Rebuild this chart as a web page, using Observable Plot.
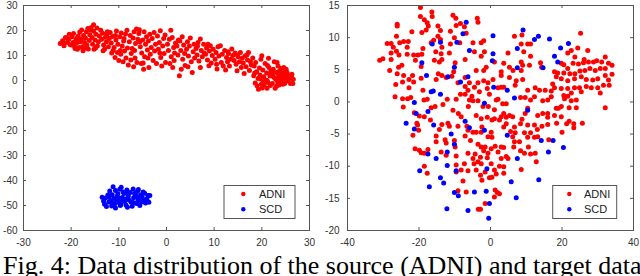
<!DOCTYPE html>
<html><head><meta charset="utf-8">
<script src="https://cdn.jsdelivr.net/npm/d3@7"></script>
<script src="https://cdn.jsdelivr.net/npm/@observablehq/plot@0.6"></script>
<style>
html,body{margin:0;padding:0;background:#fff;}
#wrap{position:relative;width:640px;height:276px;overflow:hidden;background:#fff;}
#left{position:absolute;left:0;top:0;}
#right{position:absolute;left:320px;top:0;}
#caption{position:absolute;left:3px;top:253px;font-family:"Liberation Serif","Times New Roman",serif;font-size:26px;line-height:26px;white-space:nowrap;color:#000;}
</style></head><body>
<div id="wrap"><div id="left"></div><div id="right"></div><div id="caption"></div></div>
<script>
const series = ["ADNI", "SCD"];
const colors = ["#ff0000", "#0000ff"];
const captionText = "Fig. 4: Data distribution of the source (ADNI) and target data";

const leftXTicks = [-30, -20, -10, 0, 10, 20, 30];
const leftYTicks = [-60, -50, -40, -30, -20, -10, 0, 10, 20, 30];
const rightXTicks = [-40, -20, 0, 20, 40];
const rightYTicks = [-20, -15, -10, -5, 0, 5, 10, 15];

const leftADNI = [
[-22.3,14.8],[-21.8,15.9],[-21.5,13.9],[-21.2,17.2],[-20.8,15.2],[-20.5,16.5],[-20.4,18.5],[-20.2,14.3],[-20.9,16.9],[-21.6,15.0],
[-19.8,17.5],[-19.6,15.2],[-19.5,18.8],[-19.3,13.8],[-19.0,16.3],[-18.9,14.9],[-18.7,12.5],[-18.5,17.8],[-18.3,13.2],[-18.2,19.4],[-18.1,15.5],[-19.9,14.2],[-18.8,16.9],[-19.2,12.8],
[-17.9,16.5],[-17.8,20.2],[-17.6,13.5],[-17.4,18.0],[-17.2,15.2],[-17.0,17.0],[-16.8,19.5],[-16.7,14.2],[-16.5,20.8],[-16.4,12.6],[-16.2,16.0],[-16.1,18.3],[-17.5,11.9],[-16.9,13.0],
[-15.3,22.3],[-15.8,21.2],[-15.6,17.2],[-15.5,14.5],[-15.3,19.7],[-15.2,12.5],[-15.0,16.2],[-14.8,18.5],[-14.6,21.0],[-14.5,13.8],[-14.3,15.5],[-14.1,17.8],[-15.9,20.2],[-14.9,13.0],
[-13.8,20.1],[-13.6,16.5],[-13.4,18.9],[-13.2,14.2],[-13.0,12.5],[-12.8,17.3],[-12.6,15.5],[-12.4,19.5],[-12.2,13.5],[-12.0,16.8],[-13.3,11.9],[-12.5,18.2],
[-11.8,19.2],[-11.6,15.0],[-11.5,11.0],[-11.3,17.6],[-11.0,13.2],[-10.8,9.2],[-10.6,16.2],[-10.5,19.8],[-10.3,11.2],[-10.2,14.5],[-10.0,8.0],[-11.2,12.0],[-10.7,18.0],
[-9.8,17.5],[-9.6,10.5],[-9.5,19.0],[-9.3,13.8],[-9.1,7.5],[-9.0,15.8],[-8.8,11.8],[-8.6,18.6],[-8.5,9.0],[-8.3,20.1],[-8.2,13.0],[-8.0,6.2],[-9.7,12.0],[-8.9,16.8],
[-7.8,15.5],[-7.6,18.0],[-7.4,10.8],[-7.2,12.8],[-7.0,17.0],[-6.9,5.5],[-6.8,19.5],[-6.6,9.0],[-6.5,14.8],[-6.3,20.6],[-6.2,7.2],[-6.0,16.5],[-7.5,8.2],[-6.7,12.0],
[-5.8,18.8],[-5.7,20.3],[-5.5,13.5],[-5.3,6.8],[-5.2,11.0],[-5.0,16.2],[-4.8,4.5],[-4.7,19.5],[-4.6,9.5],[-4.4,14.5],[-4.2,17.5],[-4.0,12.2],[-5.6,15.5],[-4.9,7.0],
[-3.8,15.8],[-3.7,5.2],[-3.5,18.5],[-3.4,10.5],[-3.2,13.2],[-3.0,16.8],[-2.8,8.0],[-2.6,19.2],[-2.5,11.8],[-2.3,14.5],[-2.1,6.8],[-3.9,9.0],
[-1.9,17.8],[-1.7,12.5],[-1.5,15.2],[-1.3,19.9],[-1.2,9.2],[-1.0,5.8],[-0.8,13.8],[-0.6,16.8],[-0.5,10.8],[-0.3,18.2],[-0.2,7.2],[-1.4,11.0],
[0.2,14.5],[0.4,12.0],[0.6,16.5],[0.9,20.1],[1.0,9.5],[1.2,17.2],[1.3,5.2],[1.5,13.2],[1.7,11.0],[1.9,15.0],[0.7,6.8],[1.6,8.0],
[2.2,13.8],[2.4,10.2],[2.7,1.9],[2.8,15.8],[3.0,12.0],[3.3,17.5],[3.4,8.5],[3.6,14.2],[3.8,10.8],[3.9,6.0],[2.5,16.2],[3.1,4.5],
[4.2,12.5],[4.4,15.5],[4.6,9.8],[4.8,13.8],[5.0,17.0],[5.2,7.5],[5.4,3.2],[5.6,11.5],[5.8,14.5],[5.9,9.0],[4.5,5.5],
[6.2,12.8],[6.4,10.2],[6.6,15.2],[6.8,7.8],[7.1,16.6],[7.1,5.2],[7.3,12.0],[7.5,9.5],[7.8,14.5],[7.9,11.0],[6.5,13.8],
[8.2,10.5],[8.4,13.0],[8.6,8.2],[8.9,5.9],[9.0,11.8],[9.2,13.9],[9.4,7.0],[9.6,10.0],[9.8,12.5],[8.7,14.5],
[10.2,8.5],[10.4,11.2],[10.6,4.6],[10.8,13.5],[11.0,9.8],[11.3,13.9],[11.5,7.2],[11.7,10.5],[11.9,5.8],[10.5,6.5],
[12.2,12.0],[12.4,4.2],[12.6,9.2],[12.8,7.5],[13.0,10.8],[13.2,5.8],[13.5,8.5],[13.7,12.6],[13.9,10.0],[12.9,11.5],
[14.2,8.0],[14.4,11.0],[14.6,6.5],[14.8,3.9],[15.0,9.5],[15.3,7.5],[15.5,11.2],[15.7,5.2],[15.9,9.0],[14.9,10.2],
[16.1,7.0],[16.3,2.8],[16.5,9.8],[16.7,5.5],[17.0,8.2],[17.2,11.2],[17.4,4.0],[17.6,7.5],[17.8,6.2],[16.9,10.3],
[18.1,9.0],[18.3,1.9],[18.4,5.8],[18.6,-1.0],[18.7,7.2],[18.9,3.5],[19.0,-2.1],[19.2,0.8],[19.3,-3.5],[19.5,5.0],[19.7,0.6],[19.8,8.5],[19.9,-1.5],[18.5,3.0],[19.6,2.2],
[20.0,9.9],[20.1,-3.0],[20.2,4.2],[20.4,1.5],[20.5,-1.8],[20.7,6.8],[20.8,0.2],[21.0,3.0],[21.1,0.0],[21.1,-3.1],[21.3,-0.8],[21.4,8.9],[21.5,5.2],[21.7,1.8],[21.8,-2.0],[21.9,3.8],[20.3,-0.5],[21.2,6.0],
[22.0,2.5],[22.2,-1.2],[22.4,4.5],[22.5,1.3],[22.6,7.5],[22.8,-3.1],[22.9,0.5],[23.0,3.2],[23.2,7.2],[23.3,-0.5],[23.4,5.8],[23.5,1.8],[23.6,-1.8],[23.7,3.8],[23.8,0.2],[23.9,2.6],[22.3,3.0],[23.1,-2.2],
[24.0,4.8],[24.1,-0.8],[24.2,1.5],[24.3,3.0],[24.5,0.5],[24.6,5.2],[24.7,2.2],[24.8,-1.2],[24.9,3.8],[25.0,1.0],[25.2,2.8],[25.3,3.2],[25.4,-0.2],[25.6,1.8],[25.8,0.8],[26.0,-1.2],[26.2,1.5],[26.3,2.5],[26.5,-1.2],[26.6,0.5],[25.1,4.5],[24.4,-1.5]
];

const leftSCD = [
[-13.5,-46.7],[-13.2,-48.2],[-13.0,-49.5],[-12.8,-47.0],[-12.6,-50.4],[-12.3,-45.8],[-12.1,-48.6],[-11.9,-44.2],[-11.7,-48.0],[-11.5,-50.2],
[-11.4,-45.7],[-11.2,-42.5],[-11.0,-47.2],[-10.9,-49.4],[-10.7,-44.0],[-10.7,-51.0],[-10.5,-47.8],[-10.3,-46.2],[-10.2,-45.3],[-10.0,-48.8],
[-9.8,-43.5],[-9.7,-50.0],[-9.6,-49.6],[-9.5,-42.7],[-9.3,-46.8],[-9.1,-44.6],[-8.9,-45.2],[-8.8,-48.3],[-8.6,-47.4],[-8.5,-49.8],
[-8.3,-43.8],[-8.2,-50.7],[-8.0,-46.2],[-7.8,-47.9],[-7.6,-44.8],[-7.4,-48.7],[-7.2,-50.3],[-7.0,-43.4],[-6.9,-46.9],[-6.7,-45.2],
[-6.5,-46.0],[-6.3,-49.2],[-6.1,-44.4],[-6.0,-48.0],[-5.8,-47.0],[-5.6,-50.0],[-5.4,-45.8],[-5.2,-48.6],[-5.1,-46.7],[-4.9,-44.6],
[-4.6,-45.1],[-4.4,-49.0],[-4.1,-47.4],[-3.9,-46.0],[-3.7,-48.7],[-3.5,-46.0],[-12.0,-46.6],[-10.1,-47.2],[-9.0,-47.6],[-8.0,-45.0],
[-7.0,-48.8],[-6.0,-46.5],[-11.3,-49.0],[-9.4,-48.5],[-5.9,-43.6],[-4.8,-47.8]
];

const rightADNI = [
[-19.6,14.7],[-16.4,14.0],[-16.3,13.3],[-19.6,13.3],[-18.5,12.8],[-17.7,12.3],[-17.4,11.8],[-18,11.2],[-14.7,11.8],[-14,11.1],
[-19.2,10.8],[-26.1,12.1],[-26.1,11.8],[-22,10.9],[-26.3,10.2],[-28.9,9.1],[-27.8,9.1],[-27.2,8.5],[-25.4,9.2],[-24.3,9.4],
[-23,9.4],[-23.3,8.5],[-26.3,7.9],[-27.8,7.6],[-31,6.5],[-30.1,6.7],[-27.8,6.6],[-25.6,7.3],[-23.3,7.4],[-21.5,7.3],
[-19.2,7.4],[-18.9,8.3],[-16.6,9.2],[-14,9.7],[-11.2,11.0],[-10.1,10.0],[-8.6,9.2],[-8.4,12.2],[-9.6,11.9],[-3.7,13],
[-3.5,12.4],[-4.9,9.2],[-2.6,9.2],[-1.9,9.5],[-4.5,7.8],[-1.7,7.8],[-7.1,6.6],[-13.8,7.5],[-14.3,6.2],[-15.7,6.5],
[-13.6,6.6],[-19.4,5.5],[-28.2,4.9],[-25.7,5.4],[-26.1,4.4],[-24.8,5.7],[-24.3,4.1],[-21.8,4.1],[-22.8,3.5],[-21.5,3.1],
[-19.4,3.7],[-24.6,3.1],[-26.5,2.7],[-22.8,2.2],[-26.7,0.8],[-24.6,0.5],[-23.2,0.5],[-22.3,0.7],[-24.4,-0.8],[-14.6,4.4],
[-13.6,4.1],[-12.4,3.8],[-10.8,4.0],[-15.2,3.5],[-9.9,6.1],[-11.5,7.6],[-9.1,3.0],[-10.3,4.7],[-7.1,2.4],[-5.9,3.0],
[-7.1,3.8],[-4,4.9],[-1.9,4.9],[-1.2,5.4],[-2.6,7.1],[1.1,6.2],[3.7,6.0],[3,4.7],[3,4.1],[0.7,3.5],
[3,2.3],[3.7,2.3],[-3.5,3.0],[-1.9,3.3],[-0.7,3.0],[5.3,3.8],[7.2,3.3],[9,3.5],[8.6,4.9],[8.6,6.2],
[9.0,5.7],[10.9,5.7],[11.2,7.1],[14,6.1],[6.7,10.2],[8.8,10.4],[10.4,9.0],[11.2,9.0],[8.6,9.0],[9.3,7.8],
[25.2,10.7],[22.6,8.0],[21.6,7.6],[24.4,8.4],[27.2,8.0],[23.6,7.0],[26.2,6.6],[19.8,6.0],[20.5,5.8],[21.6,5.2],
[23.1,6.0],[24.6,5.9],[26,6.1],[27.4,6.2],[28.8,6.2],[29.7,6.4],[31.1,6.2],[32.1,7.0],[33,6.0],[34,5.7],
[32.1,5.2],[30.7,5.2],[29.3,4.9],[27.8,5.2],[26.4,4.9],[25,4.8],[23.6,4.4],[22.2,4.4],[20.5,4.5],[18.8,4.5],
[17.9,4.7],[18.4,3.9],[19.8,3.6],[21.6,3.3],[23.5,3.6],[25.4,3.9],[26.8,3.5],[28.6,3.4],[30,3.6],[32.1,4.1],
[34,4.3],[33,3.4],[31.6,2.6],[33.2,2.6],[30,2.2],[28.2,2.2],[26.8,2.4],[24.9,2.2],[23.5,2.2],[21.6,2.1],
[19.8,2.1],[17.9,2.2],[17,1.7],[17.4,2.8],[20.5,1.0],[21.6,0.9],[22.6,1.4],[20.7,0.5],[22.6,0.2],[24,0.3],
[25.4,1.6],[30.7,1.4],[32.1,-0.9],[14.6,0.2],[16,0.3],[17,0.8],[15.3,1.8],[18.4,-1.0],[19,-1.0],[19.8,-0.7],
[22,-0.9],[24,-0.9],
[12.3,0.8],[11.2,0.3],[9.7,0.7],[8.4,0.7],[10.4,-1.0],[9.7,-1.8],[13.2,-2.1],[14.6,-1.8],[16,-1.8],[16,-2.4],
[17.9,-2.1],[19.8,-2.3],[22,-3.0],[23.3,-3.4],[25.7,-3.3],[23.3,-4.0],[21.3,-3.4],[18.5,-3.3],[16,-3.5],[14.4,-3.8],
[12.3,-3.6],[13.1,-4.3],[11.2,-4.8],[9.5,-4.8],[20.0,-4.7],[10.4,-5.5],[12.3,-5.5],[13.2,-5.4],[16.3,-5.9],[10.6,-7.0],
[11.2,-8.1],[12.5,-8.0],[9.5,-8.0],[12.8,-9.3],[8.6,-10.5],[8.4,-7.6],[6.5,-7.0],[6.7,-6.2],[8.1,-6.2],[6.2,-5.4],
[6.9,-4.8],[6.7,-3.9],[8.4,-3.4],[8.8,-2.7],[6.2,-2.3],[5.3,-2.1],[3.7,-1.8],[3.7,-3.9],[4.4,-3.4],[3,-2.3],
[1.1,-2.6],[2.5,-2.8],[0.4,-2.8],[-0.9,-2.4],[-2.6,-2.6],[-4,-2.1],[1.1,-1.2],[1.6,0.3],[3.4,-0.3],[4.4,-0.3],
[2.1,0.4],[-3.5,0.2],[-4.9,0.2],[-6.2,-0.7],[-5.9,0.3],[-7.1,1.2],[-8.4,1.2],[-9.6,0.4],[-12.1,0.4],[-13.3,-0.4],
[-15.5,-0.7],[-16.6,-0.9],[-17.7,0.4],[-18.9,1.8],[-18.6,0.3],[-21.3,-1.7],[-19.9,-2.2],[-18.5,-2.3],[-20.6,-3.3],[-20.4,-3.6],
[-16.8,-2.8],[-14.3,-4.3],[-15.2,-5.3],[-13.6,-3.5],[-11.5,-3.8],[-11.9,-3.3],[-10.5,-1.3],[-9,-1.8],[-9.1,-3.8],[-8.2,-2.3],
[-6.6,-3.8],[-6.3,-4.4],[-7.1,-5.3],[-4.9,-4.7],[-4,-4.7],[-2.4,-3.9],[0.2,-4.7],[-0.7,-5.4],[0.4,-5.5],[-5.6,-6.0],
[-3.5,-6.6],[-2.6,-7.0],[-1.5,-7.0],[0.2,-7.3],[1.3,-6.9],[3,-7.0],[3.7,-7.1],[2.1,-7.8],[3,-8.8],[4.4,-8.5],
[4.9,-8.8],[2.5,-10.0],[3.7,-10.1],[1.1,-10.6],[3.7,-11.1],[-1.9,-7.6],[-0.7,-8.0],[-0.9,-8.7],[-2.8,-8.6],[-4.3,-8.1],
[-6.3,-8.0],[-4.9,-8.8],[-3.5,-9.3],[-2.6,-9.6],[-4.6,-9.6],[-7.3,-9.6],[-6.3,-10.7],[-4,-10.6],[-2.8,-11.4],[-2.4,-12.2],
[-1.5,-10.9],[0.2,-9.6],[0.4,-11.7],[1.6,-11.2],[-0.3,-11.8],[1.3,-13.7],[1.9,-14.1],[1.1,-14.8],[2.5,-14.3],[-1.5,-15.8],
[-2.8,-16.7],[-3.4,-16.7],[-9.1,-13.8],[-6.8,-14.0],[-7.7,-12.3],[-9.6,-10.9],[-9.6,-9.8],[-8.2,-10.6],[-9.6,-8.4],[-9.9,-7.0],
[-10.1,-6.0],[-12.4,-6.4],[-12.7,-5.9],[-15.2,-6.2],[-17.5,-7.4],[-19.9,-7.5],[-19.4,-7.9],[-18.5,-8.0],[-21.1,-7.3],[-20.1,-4.4],
[-21.7,-5.2],[-18.5,-10.0],[-17.7,-11.1],[-13.8,-7.8],[-12.4,-8.3],[-2.6,-4.7],[5.6,-4.6],[4.4,-2.4],[10.4,-3.6],
[-6.3,1.8],[-4.5,2.3],[-3.1,1.6],[-0.9,2.1],[-0.3,1.2],[2.1,2.2],[-5.2,0.9],[-2.1,-0.7],[-0.6,-0.7],[5.3,5.4],
[6.3,4.9],[4.9,7.6],[6.9,2.6],[10.4,1.8],[13.7,1.8],[12.5,2.2],[14.3,5.4],
[-7.3,11.7],[-6.8,10.7],[-10.5,13.5],[-9.7,13.0],[-11.2,9.0],[-14.7,10.2],[-15.9,9.6],[-13.6,8.5],[-20.3,7.3],[-21,6.5],[-15.3,7.8]
];

const rightSCD = [
[-6.8,12.4],[-7.7,10.6],[-9.4,9.3],[-14,9.3],[-16.3,9.0],[-5.9,8.0],[0.7,10.3],[0.7,7.5],[0.5,6.4],[9.1,11.2],
[7.5,8.3],[13.4,10.2],[12.3,9.7],[16.5,9.8],[19.6,8.4],[21.8,9.1],[17.9,7.1],[18.8,6.2],[14.7,5.3],[7.5,5.3],
[-19.2,6.1],[-17.9,4.1],[-11.9,3.9],[-10.1,5.4],[-8.4,3.1],[-6.3,3.9],[-16,1.7],[-16.6,1.6],[-14,1.2],[0.9,2.3],
[4.7,1.8],[6.7,0.6],[-1.7,-0.2],[10.4,-1.3],[-21.3,-0.1],[-20.8,-1.8],[-23.6,-3.3],[-21.3,-4.2],[-17.5,-1.5],[-15.9,-3.6],
[-11,-5.0],[-10.1,-6.6],[-7.1,-3.0],[-5.9,-4.0],[-1.7,-4.4],[4.7,-5.2],[14.2,-6.0],[17.5,-6.0],[16.2,-7.8],[20.4,-7.1],
[7.5,-8.8],[-17.5,-8.1],[-15.2,-8.8],[-12.1,-7.8],[-12.1,-9.9],[-19.8,-10.7],[-9.6,-10.7],[-17.1,-13.2],[-14,-11.8],[-13.1,-12.6],
[-10.1,-14.1],[-9,-14.6],[-4.5,-14.0],[-1.2,-13.9],[-1,-10.4],[-0.5,-18.1],[-6.3,-16.9],[-12.2,-16.6],[-0.3,-15.8],[5.8,-12.4],
[7.2,-14.9],[13.5,-12.1]
];

const FONT = "'Liberation Sans', Arial, Helvetica, sans-serif";
const AX = "#555";

function panel({adni, scd, xDomain, yDomain, xTicks, yTicks, ml, mr, yPad, leg}) {
  const W = 320, H = 250, mt = 5, mb = 20;
  const ph = H - mt - mb, pw = W - ml - mr, tk = 3;
  const data = [
    ...adni.map(([x, y]) => ({x, y, s: series[0]})),
    ...scd.map(([x, y]) => ({x, y, s: series[1]}))
  ];
  const svg = Plot.plot({
    width: W, height: H,
    marginLeft: ml, marginRight: mr, marginTop: mt, marginBottom: mb,
    style: {fontFamily: FONT, fontSize: "10px", color: "#333", background: "#fff", overflow: "visible"},
    x: {domain: xDomain, label: null},
    y: {domain: yDomain, label: null},
    color: {domain: series, range: colors},
    marks: [
      Plot.dot(data, {x: "x", y: "y", fill: "s", r: 2.5}),
      Plot.ruleX(xTicks, {x: d => d, insetTop: ph - tk, stroke: AX}),
      Plot.ruleX(xTicks, {x: d => d, insetBottom: ph - tk, stroke: AX}),
      Plot.ruleY(yTicks, {y: d => d, insetRight: pw - tk, stroke: AX}),
      Plot.ruleY(yTicks, {y: d => d, insetLeft: pw - tk, stroke: AX}),
      Plot.frame({stroke: AX}),
      Plot.axisX({ticks: xTicks, tickSize: 0, tickPadding: 8, tickFormat: d => String(d), label: null}),
      Plot.axisY({ticks: yTicks, tickSize: 0, tickPadding: yPad, tickFormat: d => String(d), label: null})
    ]
  });
  // MATLAB-style boxed legend
  const g = d3.select(svg).append("g")
    .attr("font-family", FONT).attr("font-size", "11px").attr("text-anchor", "start");
  g.append("rect").attr("x", leg.x).attr("y", leg.y).attr("width", leg.w).attr("height", leg.h)
    .attr("fill", "#fff").attr("stroke", AX).attr("stroke-width", 1);
  series.forEach((s, i) => {
    const cy = leg.rows[i];
    g.append("circle").attr("cx", leg.mx).attr("cy", cy).attr("r", 2.2).attr("fill", colors[i]);
    g.append("text").attr("x", leg.tx).attr("y", cy).attr("dy", "0.35em")
      .attr("text-anchor", "start").attr("fill", "#222").text(s);
  });
  return svg;
}

document.getElementById("left").append(panel({
  adni: leftADNI, scd: leftSCD, xDomain: [-30, 30], yDomain: [-60, 30],
  xTicks: leftXTicks, yTicks: leftYTicks, ml: 23, mr: 11, yPad: 6,
  leg: {x: 224, y: 185.5, w: 71, h: 33, mx: 243.3, tx: 259, rows: [194, 209.3]}
}));
document.getElementById("right").append(panel({
  adni: rightADNI, scd: rightSCD, xDomain: [-40, 40], yDomain: [-20, 15],
  xTicks: rightXTicks, yTicks: rightYTicks, ml: 27, mr: 7, yPad: 8,
  leg: {x: 232.7, y: 185.5, w: 64, h: 33, mx: 249.3, tx: 264, rows: [194, 209.3]}
}));
document.getElementById("caption").textContent = captionText;
</script>
</body></html>
